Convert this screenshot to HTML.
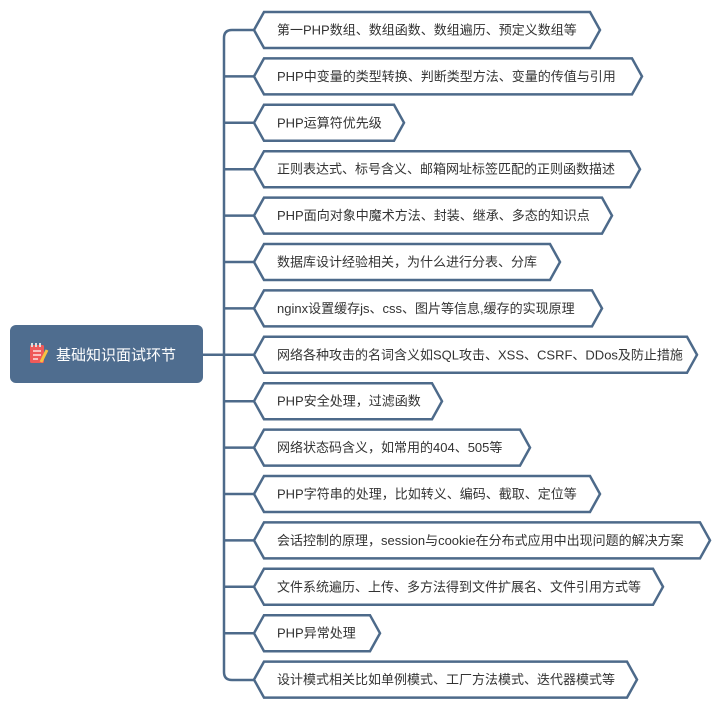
<!DOCTYPE html>
<html><head><meta charset="utf-8"><style>
html,body{margin:0;padding:0;background:#fff;}
svg text{font-family:"Liberation Sans","Noto Sans CJK SC",sans-serif;font-size:13px;fill:#333;}
</style></head><body>
<svg width="720" height="708" viewBox="0 0 720 708" xmlns="http://www.w3.org/2000/svg">
<g fill="none" stroke="#4d6a8a" stroke-width="2.5">
<path d="M254 30 H232 Q224 30 224 38 V672 Q224 680 232 680 H254"/>
<path d="M203 354.8 H224"/>
<path d="M224 76.4H254M224 122.8H254M224 169.2H254M224 215.6H254M224 262H254M224 308.4H254M224 354.8H254M224 401.2H254M224 447.6H254M224 494H254M224 540.4H254M224 586.8H254M224 633.2H254"/>
</g>
<g fill="#fff" stroke="#4d6a8a" stroke-width="2.5">
<polygon points="254,30 264,12 590,12 600,30 590,48 264,48"/>
<polygon points="254,76.4 264,58.4 632,58.4 642,76.4 632,94.4 264,94.4"/>
<polygon points="254,122.8 264,104.8 394,104.8 404,122.8 394,140.8 264,140.8"/>
<polygon points="254,169.2 264,151.2 630,151.2 640,169.2 630,187.2 264,187.2"/>
<polygon points="254,215.6 264,197.6 602,197.6 612,215.6 602,233.6 264,233.6"/>
<polygon points="254,262 264,244 550,244 560,262 550,280 264,280"/>
<polygon points="254,308.4 264,290.4 592,290.4 602,308.4 592,326.4 264,326.4"/>
<polygon points="254,354.8 264,336.8 687,336.8 697,354.8 687,372.8 264,372.8"/>
<polygon points="254,401.2 264,383.2 432,383.2 442,401.2 432,419.2 264,419.2"/>
<polygon points="254,447.6 264,429.6 520,429.6 530,447.6 520,465.6 264,465.6"/>
<polygon points="254,494 264,476 590,476 600,494 590,512 264,512"/>
<polygon points="254,540.4 264,522.4 700,522.4 710,540.4 700,558.4 264,558.4"/>
<polygon points="254,586.8 264,568.8 653,568.8 663,586.8 653,604.8 264,604.8"/>
<polygon points="254,633.2 264,615.2 370,615.2 380,633.2 370,651.2 264,651.2"/>
<polygon points="254,679.6 264,661.6 627,661.6 637,679.6 627,697.6 264,697.6"/>
</g>
<g>
<text x="277" y="34.5">第一PHP数组、数组函数、数组遍历、预定义数组等</text>
<text x="277" y="81">PHP中变量的类型转换、判断类型方法、变量的传值与引用</text>
<text x="277" y="127.3">PHP运算符优先级</text>
<text x="277" y="173.7">正则表达式、标号含义、邮箱网址标签匹配的正则函数描述</text>
<text x="277" y="220.1">PHP面向对象中魔术方法、封装、继承、多态的知识点</text>
<text x="277" y="266.5">数据库设计经验相关，为什么进行分表、分库</text>
<text x="277" y="312.9">nginx设置缓存js、css、图片等信息,缓存的实现原理</text>
<text x="277" y="359.3">网络各种攻击的名词含义如SQL攻击、XSS、CSRF、DDos及防止措施</text>
<text x="277" y="405.7">PHP安全处理，过滤函数</text>
<text x="277" y="452.1">网络状态码含义，如常用的404、505等</text>
<text x="277" y="498.5">PHP字符串的处理，比如转义、编码、截取、定位等</text>
<text x="277" y="544.9">会话控制的原理，session与cookie在分布式应用中出现问题的解决方案</text>
<text x="277" y="591.3">文件系统遍历、上传、多方法得到文件扩展名、文件引用方式等</text>
<text x="277" y="637.7">PHP异常处理</text>
<text x="277" y="684.1">设计模式相关比如单例模式、工厂方法模式、迭代器模式等</text>
</g>
<rect x="10" y="325" width="193" height="58" rx="6" fill="#4f6d8f"/>
<g transform="translate(30,343)">
<rect x="0" y="2" width="14" height="18" rx="1.5" fill="#ef5a5a"/>
<rect x="1" y="0" width="2" height="4" fill="#ddd"/><rect x="5" y="0" width="2" height="4" fill="#ddd"/><rect x="9" y="0" width="2" height="4" fill="#ddd"/>
<path d="M3 8H11M3 12H11M3 16H8" stroke="#fff" stroke-width="1.3"/>
<path d="M17 7 L11 19" stroke="#f5c242" stroke-width="3"/>
</g>
<text x="56" y="360" style="font-size:15px;fill:#fff;">基础知识面试环节</text>
</svg>
</body></html>
